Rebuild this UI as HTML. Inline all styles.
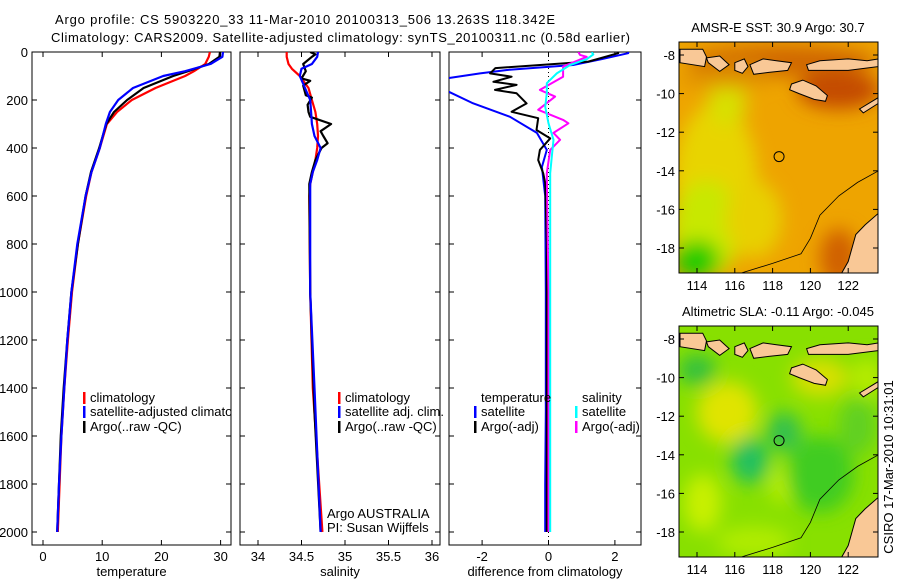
<!DOCTYPE html>
<html><head><meta charset="utf-8"><style>
html,body{margin:0;padding:0;background:#fff;}
svg{display:block;font-family:"Liberation Sans",sans-serif;}
</style></head><body>
<svg id="fig" width="900" height="580" viewBox="0 0 900 580" xmlns="http://www.w3.org/2000/svg">
<defs>
<clipPath id="c1"><rect x="32" y="52" width="199" height="493"/></clipPath>
<clipPath id="c2"><rect x="240" y="52" width="200" height="493"/></clipPath>
<clipPath id="c3"><rect x="449" y="52" width="192" height="493"/></clipPath>
<clipPath id="cm1"><rect x="679" y="42" width="199" height="231"/></clipPath>
<clipPath id="cm2"><rect x="679" y="326" width="199" height="231"/></clipPath>
<filter id="bl" x="-50%" y="-50%" width="200%" height="200%"><feGaussianBlur stdDeviation="9"/></filter>
</defs>
<text x="55" y="24" font-size="13" textLength="500">Argo profile: CS 5903220_33 11-Mar-2010 20100313_506 13.263S 118.342E</text>
<text x="51" y="42" font-size="13" textLength="579">Climatology: CARS2009. Satellite-adjusted climatology: synTS_20100311.nc (0.58d earlier)</text>
<g id="plots"></g>
<g id="maps"></g>
<text transform="translate(893,467) rotate(-90)" text-anchor="middle" font-size="13">CSIRO 17-Mar-2010 10:31:01</text>
</svg>
<script>
// ---------- data ----------
const tempDepth = [0,20,50,80,100,150,200,250,300,400,500,600,800,1000,1200,1400,1600,1800,2000];
const tempClim  = [28.2,28.0,27.4,25.5,24.0,19.0,15.0,12.5,10.8,9.6,8.2,7.3,5.9,4.9,4.2,3.6,3.1,2.8,2.5];
const tempSat   = [30.4,30.3,28.3,24.0,20.3,15.2,12.7,11.3,10.6,9.6,8.2,7.2,5.8,4.8,4.1,3.6,3.1,2.7,2.4];
const tempArgo  = [29.9,29.8,28.0,24.5,22.0,17.0,14.2,12.0,10.7,9.5,8.1,7.2,5.9,4.8,4.1,3.5,3.0,2.7,2.4];
const salDepth  = [0,20,50,70,100,150,200,250,300,350,400,450,500,550,600,1000,1400,2000];
const salClim   = [34.33,34.33,34.35,34.39,34.48,34.58,34.62,34.66,34.68,34.69,34.68,34.66,34.63,34.6,34.59,34.6,34.63,34.74];
const salSat    = [34.69,34.68,34.62,34.5,34.48,34.54,34.6,34.61,34.62,34.65,34.72,34.68,34.63,34.6,34.6,34.6,34.65,34.72];
const salArgoDepth = [0,10,20,50,80,110,120,140,180,190,220,250,270,300,330,350,380,400,450,500,550,1000,1500,2000];
const salArgo    = [34.6,34.66,34.62,34.52,34.55,34.5,34.6,34.52,34.55,34.62,34.57,34.58,34.6,34.84,34.72,34.75,34.8,34.73,34.66,34.62,34.59,34.6,34.65,34.72];
const dTSatDepth = [0,5,30,54,75,89,108,125,150,166,212,270,337,408,479,600,1000,1500,1800,2000];
const dTSat      = [2.4,2.4,1.6,0.74,-1.25,-2.06,-2.97,-3.6,-3.5,-3.0,-2.3,-1.16,-0.35,-0.05,-0.2,-0.1,-0.08,-0.08,-0.1,-0.1];
const dTArgoDepth = [0,5,40,67,89,103,124,137,158,172,214,249,276,325,360,408,450,505,546,800,1500,2000];
const dTArgo      = [2.1,2.1,1.2,-1.6,-1.76,-1.11,-1.66,-0.96,-1.61,-0.96,-0.66,-1.11,-0.31,-0.36,0.05,-0.26,-0.31,-0.16,-0.1,-0.05,-0.05,-0.05];
const dSSatDepth = [0,10,30,54,89,130,172,228,297,366,436,505,1000,2000];
const dSSat      = [1.3,1.35,1.15,0.65,0.25,-0.05,-0.05,-0.1,0,0.15,0.1,0.05,0.05,0.05];
const dSArgoDepth = [0,12,20,61,103,158,186,241,283,297,337,366,408,505,1000,2000];
const dSArgo      = [0.9,0.95,1.15,0.44,0.44,-0.26,0.2,-0.31,0.44,0.6,0.15,0.35,0.05,-0.05,0.0,0.0];
const depthTicks = [0,200,400,600,800,1000,1200,1400,1600,1800,2000];
const tempTicks = [0,10,20,30];
const salTicks = [34,34.5,35,35.5,36];
const salTickLabels = ["34","34.5","35","35.5","36"];
const diffTicks = [-2,0,2];
const lonTicks = [114,116,118,120,122];
const latTicks = [-8,-10,-12,-14,-16,-18];

// ---------- helpers ----------
const NS="http://www.w3.org/2000/svg";
function mk(tag, attrs, parent){const e=document.createElementNS(NS,tag);for(const k in attrs)e.setAttribute(k,attrs[k]);if(parent)parent.appendChild(e);return e;}
const yD = d => 52 + d*0.24;
const xT = t => 43 + t*5.92;
const xS = s => 258 + (s-34)*87;
const xDf = v => 548.5 + v*33.2;
const plots=document.getElementById('plots');

function panel(name,x0,x1,xf,ticks,labels,xlabel,showY,clip){
  const g=mk('g',{},plots);
  
  
  const fr=mk('rect',{x:x0,y:52,width:x1-x0,height:493,fill:'none',stroke:'#000','stroke-width':1},g);
  
  
  depthTicks.forEach(d=>{
    const y=yD(d);
    mk('line',{x1:x0,x2:x0+5,y1:y,y2:y,stroke:'#000'},g);
    mk('line',{x1:x1-5,x2:x1,y1:y,y2:y,stroke:'#000'},g);
    if(showY){const t=mk('text',{x:x0-4,y:y+5,'font-size':13,'text-anchor':'end'},g);t.textContent=d;
      
      }
  });
  ticks.forEach((v,i)=>{
    const x=xf(v);
    mk('line',{x1:x,x2:x,y1:545,y2:540,stroke:'#000'},g);
    mk('line',{x1:x,x2:x,y1:52,y2:57,stroke:'#000'},g);
    const t=mk('text',{x:x,y:561,'font-size':13,'text-anchor':'middle'},g);t.textContent=labels[i];
    
    
  });
  const xl=mk('text',{x:(x0+x1)/2,y:576,'font-size':13,'text-anchor':'middle'},g);xl.textContent=xlabel;
  
  
  return mk('g',{'clip-path':'url(#'+clip+')'},g);
}
function series(g,name,depths,vals,xf,color,w){
  const pts=depths.map((d,i)=>xf(vals[i]).toFixed(1)+','+yD(d).toFixed(1)).join(' ');
  const p=mk('polyline',{points:pts,fill:'none',stroke:color,'stroke-width':w,'stroke-linejoin':'round'},g);
  
  
}
function legend(parent,x,y,color,text,name){
  if(color){mk('rect',{x:x,y:y-10,width:2.5,height:12,fill:color},parent);}
  const t=mk('text',{x:x+7,y:y,'font-size':13},parent);t.textContent=text;
  
  
}

// panel 1
const g1=panel('temperature-panel',32,231,xT,tempTicks,tempTicks.map(String),'temperature',true,'c1');
series(g1,'temp-climatology-line',tempDepth,tempClim,xT,'#f00',2.2);
series(g1,'temp-argo-line',tempDepth,tempArgo,xT,'#000',2.2);
series(g1,'temp-satellite-line',tempDepth,tempSat,xT,'#00f',2.2);
legend(g1,83,402,'#f00','climatology','legend-climatology');
legend(g1,83,416,'#00f','satellite-adjusted climatology','legend-satellite-adjusted');
legend(g1,83,431,'#000','Argo(..raw -QC)','legend-argo');
// panel 2
const g2=panel('salinity-panel',240,440,xS,salTicks,salTickLabels,'salinity',false,'c2');
series(g2,'sal-climatology-line',salDepth,salClim,xS,'#f00',2.2);
series(g2,'sal-argo-line',salArgoDepth,salArgo,xS,'#000',2.2);
series(g2,'sal-satellite-line',salDepth,salSat,xS,'#00f',2.2);
legend(plots,338,402,'#f00','climatology','legend-sal-climatology');
legend(plots,338,416,'#00f','satellite adj. clim.','legend-sal-satellite');
legend(plots,338,431,'#000','Argo(..raw -QC)','legend-sal-argo');
legend(plots,320,518,null,'Argo AUSTRALIA','argo-australia-label');
legend(plots,320,532,null,'PI: Susan Wijffels','pi-label');
// panel 3
const g3=panel('difference-panel',449,641,xDf,diffTicks,diffTicks.map(String),'difference from climatology',false,'c3');
mk('line',{x1:xDf(0),x2:xDf(0),y1:52,y2:545,stroke:'#000','stroke-dasharray':'1,3'},g3);
series(g3,'diff-temp-satellite-line',dTSatDepth,dTSat,xDf,'#00f',2);
series(g3,'diff-temp-argo-line',dTArgoDepth,dTArgo,xDf,'#000',2);
series(g3,'diff-sal-argo-line',dSArgoDepth,dSArgo,xDf,'#f0f',2);
series(g3,'diff-sal-satellite-line',dSSatDepth,dSSat,xDf,'#0ff',2);
legend(plots,474,402,null,'temperature','legend-temperature-header');
legend(plots,474,416,'#00f','satellite','legend-temp-satellite');
legend(plots,474,431,'#000','Argo(-adj)','legend-temp-argo');
legend(plots,575,402,null,'salinity','legend-salinity-header');
legend(plots,575,416,'#0ff','satellite','legend-sal-sat');
legend(plots,575,431,'#f0f','Argo(-adj)','legend-sal-argo-adj');

// ---------- maps ----------
const maps=document.getElementById('maps');
const land=[
 [[113.1,-7.7],[114.3,-7.7],[114.5,-8.1],[114.4,-8.6],[113.1,-8.4]],
 [[114.5,-8.15],[115.2,-8.05],[115.7,-8.5],[115.2,-8.85],[114.6,-8.4]],
 [[116.0,-8.4],[116.5,-8.2],[116.7,-8.6],[116.4,-8.95],[116.0,-8.8]],
 [[116.8,-8.5],[117.5,-8.2],[118.2,-8.3],[119.0,-8.4],[118.8,-8.8],[117.8,-8.9],[117.0,-9.0]],
 [[119.8,-8.5],[120.5,-8.3],[122.0,-8.2],[123.0,-8.3],[123.6,-8.2],[123.6,-8.6],[122,-8.8],[120.5,-8.8],[119.9,-8.8]],
 [[119.0,-9.5],[119.6,-9.3],[120.3,-9.6],[120.9,-10.1],[120.8,-10.4],[120.2,-10.3],[119.4,-10.0],[118.9,-9.8]],
 [[122.6,-10.8],[123.6,-10.2],[123.6,-10.5],[122.8,-11.0]],
 [[123.6,-16.2],[122.9,-16.8],[122.4,-17.3],[122.2,-18.0],[122.0,-18.7],[121.6,-19.4],[123.6,-19.4]]
];
const contour=[[116,-19.4],[118,-18.8],[119.5,-18.3],[120,-17.5],[120.5,-16.3],[121.5,-15.3],[122.5,-14.6],[123.6,-14.0]];
function mapPanel(name,top,y8,title,base,blobs,clip){
  const g=mk('g',{},maps);
  
  
  const X=lon=>697+(lon-114)*18.9, Y=lat=>y8+(-8-lat)*19.3;
  const c=mk('g',{'clip-path':'url(#'+clip+')'},g);
  mk('rect',{x:679,y:top,width:199,height:231,fill:base},c);
  const bg=mk('g',{filter:'url(#bl)'},c);
  blobs.forEach(b=>mk('ellipse',{cx:X(b[0]),cy:Y(b[1]),rx:b[2]*18.9,ry:b[3]*19.3,fill:b[4]},bg));
  land.forEach(poly=>{const p=mk('polygon',{points:poly.map(q=>X(q[0]).toFixed(1)+','+Y(q[1]).toFixed(1)).join(' '),fill:'#f9c896',stroke:'#000','stroke-width':1},c);
    
    });
  mk('polyline',{points:contour.map(q=>X(q[0]).toFixed(1)+','+Y(q[1]).toFixed(1)).join(' '),fill:'none',stroke:'#000','stroke-width':0.8},c);
  const ci=mk('circle',{cx:X(118.342),cy:Y(-13.263),r:5,fill:'none',stroke:'#000','stroke-width':1},g);
  
  
  mk('rect',{x:679,y:top,width:199,height:231,fill:'none',stroke:'#000'},g);
  lonTicks.forEach(l=>{const x=X(l);mk('line',{x1:x,x2:x,y1:top+231,y2:top+226,stroke:'#000'},g);mk('line',{x1:x,x2:x,y1:top,y2:top+5,stroke:'#000'},g);
    const t=mk('text',{x:x,y:top+248,'font-size':13,'text-anchor':'middle'},g);t.textContent=l;
    
    });
  latTicks.forEach(l=>{const y=Y(l);mk('line',{x1:679,x2:684,y1:y,y2:y,stroke:'#000'},g);mk('line',{x1:873,x2:878,y1:y,y2:y,stroke:'#000'},g);
    const t=mk('text',{x:675,y:y+5,'font-size':13,'text-anchor':'end'},g);t.textContent=l;
    
    });
  const tt=mk('text',{x:778,y:top-10,'font-size':13,'text-anchor':'middle'},g);tt.textContent=title;
  
  
}
mapPanel('sst-map',42,55,'AMSR-E SST: 30.9 Argo: 30.7','#eea400',[
 [115,-14.5,2.2,4,'#e8d400'],[114.5,-17,1.8,2.5,'#c8e800'],[114,-18.6,1.2,1,'#22cc00'],[115.6,-10.5,1,1.2,'#d8e000'],
 [117,-16.5,1.5,2,'#e8d000'],[118.5,-8.3,5,0.8,'#d06800'],[121.5,-9.8,2.2,1,'#c44c00'],[121.5,-18.5,1,1.5,'#d06000'],[116,-8.8,2,0.5,'#d88000'],[115.5,-9.2,2.5,0.5,'#e09000']],'cm1');
mapPanel('sla-map',326,339,'Altimetric SLA: -0.11 Argo: -0.045','#88e000',[
 [115.6,-11.8,1.6,1.6,'#e0e400'],[116.8,-14.3,1,1.2,'#20c060'],[118.6,-12.8,0.9,1,'#30c050'],[114,-9.6,1,0.8,'#30c040'],
 [120.5,-10,1.5,1,'#d8e000'],[114.3,-16.5,1,1.5,'#c8f000'],[118.5,-15.5,0.6,1,'#c0f000'],[120.5,-15,1.8,2,'#40cc20'],
 [117,-18.5,2,0.8,'#b0ec00'],[122.5,-12.5,1,1.5,'#60d020'],[123,-10,0.8,1,'#b8ec00']],'cm2');
</script>
</body></html>
